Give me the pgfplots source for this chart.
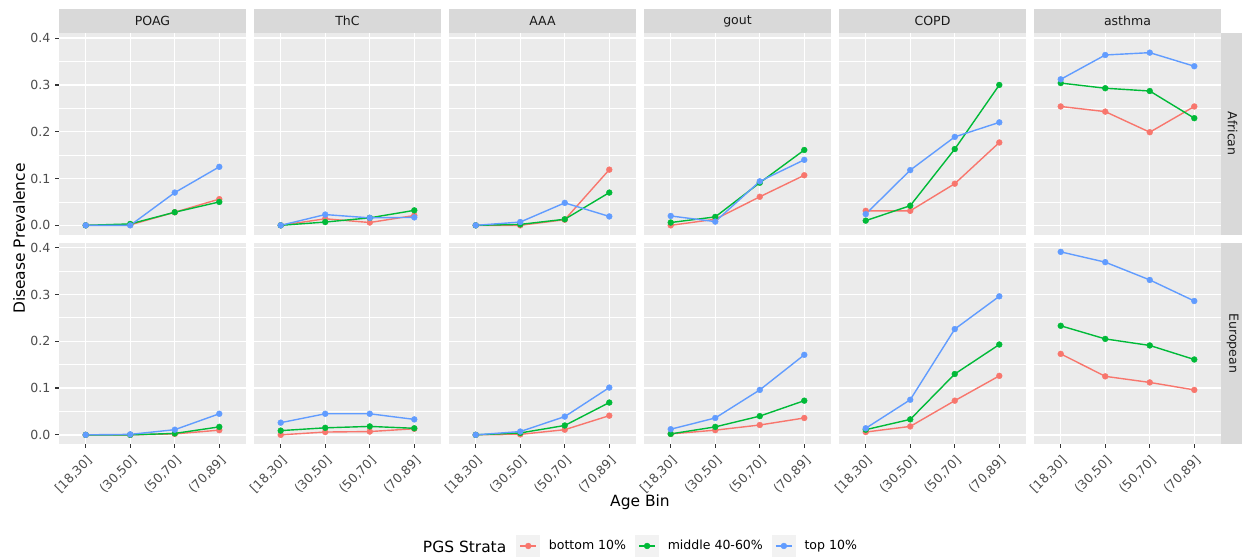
\documentclass[border=0pt]{standalone}
\usepackage{pgfplots}
\pgfplotsset{compat=1.18}
\usepackage{pgfplotstable}
\usepackage{fontspec}
\setmainfont{DejaVu Sans}

\definecolor{cbot}{HTML}{F8766D}
\definecolor{cmid}{HTML}{00BA38}
\definecolor{ctop}{HTML}{619CFF}
\definecolor{panelbg}{HTML}{EBEBEB}
\definecolor{stripbg}{HTML}{D9D9D9}
\definecolor{keybg}{HTML}{F2F2F2}
\definecolor{ticklab}{HTML}{4D4D4D}
\definecolor{tickcol}{HTML}{333333}
\definecolor{striptext}{HTML}{1A1A1A}

% African
\pgfplotstableread{
x bot mid top
1 0     0     0
2 0.001 0.003 0
3 0.028 0.028 0.070
4 0.056 0.050 0.125
}\AfPOAG
\pgfplotstableread{
x bot mid top
1 0     0     0
2 0.014 0.007 0.023
3 0.006 0.016 0.016
4 0.021 0.032 0.017
}\AfThC
\pgfplotstableread{
x bot mid top
1 0     0     0
2 0     0.002 0.007
3 0.012 0.013 0.048
4 0.119 0.070 0.019
}\AfAAA
\pgfplotstableread{
x bot mid top
1 0     0.006 0.020
2 0.013 0.018 0.008
3 0.061 0.091 0.094
4 0.107 0.161 0.140
}\AfGout
\pgfplotstableread{
x bot mid top
1 0.031 0.010 0.024
2 0.031 0.042 0.118
3 0.089 0.163 0.189
4 0.177 0.300 0.220
}\AfCOPD
\pgfplotstableread{
x bot mid top
1 0.254 0.304 0.312
2 0.243 0.293 0.364
3 0.199 0.287 0.369
4 0.254 0.229 0.340
}\AfAsthma
% European
\pgfplotstableread{
x bot mid top
1 0     0     0
2 0     0     0.001
3 0.002 0.003 0.011
4 0.010 0.017 0.045
}\EuPOAG
\pgfplotstableread{
x bot mid top
1 0     0.009 0.026
2 0.006 0.015 0.045
3 0.007 0.018 0.045
4 0.013 0.014 0.033
}\EuThC
\pgfplotstableread{
x bot mid top
1 0     0     0
2 0.001 0.004 0.007
3 0.011 0.020 0.039
4 0.041 0.069 0.101
}\EuAAA
\pgfplotstableread{
x bot mid top
1 0.002 0.002 0.012
2 0.010 0.017 0.036
3 0.021 0.040 0.096
4 0.036 0.073 0.171
}\EuGout
\pgfplotstableread{
x bot mid top
1 0.006 0.011 0.014
2 0.018 0.033 0.075
3 0.073 0.130 0.226
4 0.126 0.193 0.296
}\EuCOPD
\pgfplotstableread{
x bot mid top
1 0.173 0.233 0.391
2 0.125 0.205 0.369
3 0.112 0.191 0.331
4 0.096 0.161 0.286
}\EuAsthma

\newcommand{\smallfont}{\fontsize{9.4}{11}\selectfont}
\newcommand{\bigfont}{\fontsize{11.6}{14}\selectfont}

\pgfplotsset{
  base/.style={
    scale only axis, width=140.25pt, height=151.125pt,
    xmin=0.4, xmax=4.6, ymin=-0.0196, ymax=0.411,
    axis background/.style={fill=panelbg},
    axis line style={draw=none},
    xtick={1,2,3,4}, ytick={0,0.1,0.2,0.3,0.4},
    minor ytick={0.05,0.15,0.25,0.35},
    grid=both,
    major grid style={white, line width=1.05pt},
    minor grid style={white, line width=0.55pt},
    xtick pos=bottom, ytick pos=left,
    tick align=outside,
    major tick length=2.9pt, minor tick length=0pt,
    tick style={color=tickcol, line width=0.9pt},
    xticklabels={}, yticklabels={},
    legend image code/.code={
      \fill[fill=keybg,draw=none] (0pt,-8.25pt) rectangle (18pt,8.25pt);
      \draw[mark repeat=2,mark phase=2] plot coordinates {(3pt,0pt) (9pt,0pt) (15pt,0pt)};
    },
  },
  lefty/.style={yticklabels={0.0,0.1,0.2,0.3,0.4},
    yticklabel style={font=\smallfont, text=ticklab}},
  noy/.style={ytick style={draw=none}},
  botx/.style={xticklabels={{[18,30]},{(30,50]},{(50,70]},{(70,89]}},
    xticklabel style={font=\smallfont, text=ticklab, rotate=45, anchor=north east}},
  nox/.style={xtick style={draw=none}},
  sbot/.style={color=cbot, line width=1.05pt, mark=*, mark size=2.2pt, mark options={solid, line width=0.3pt}},
  smid/.style={color=cmid, line width=1.05pt, mark=*, mark size=2.2pt, mark options={solid, line width=0.3pt}},
  stop/.style={color=ctop, line width=1.05pt, mark=*, mark size=2.2pt, mark options={solid, line width=0.3pt}},
}

\newcommand{\panel}[4]{%
\begin{axis}[base, at={({#1*0.75pt},{-#2*0.75pt})}, anchor=north west, #4]
\addplot[sbot] table[x=x,y=bot]{#3};
\addplot[smid] table[x=x,y=mid]{#3};
\addplot[stop] table[x=x,y=top]{#3};
\end{axis}}

\begin{document}
\begin{tikzpicture}
\begin{scope}[x=0.75pt,y=-0.75pt]
\useasboundingbox (0,0) rectangle (1242,557);
\foreach \l/\t in {59/POAG,254/ThC,449/AAA,644/gout,839/COPD,1034/asthma}{
  \fill[stripbg] (\l,9) rectangle ({\l+187},33);
  \node[font=\smallfont, text=striptext] at ({\l+93.5},21) {\t};
}
\fill[stripbg] (1221,33) rectangle (1245,234.5);
\fill[stripbg] (1221,242.5) rectangle (1245,444);
\node[rotate=-90, font=\smallfont, text=striptext] at (1232.5,133.75) {African};
\node[rotate=-90, font=\smallfont, text=striptext] at (1232.5,343.25) {European};
\end{scope}

\panel{59}{33}{\AfPOAG}{lefty, nox}
\panel{254}{33}{\AfThC}{noy, nox}
\panel{449}{33}{\AfAAA}{noy, nox}
\panel{644}{33}{\AfGout}{noy, nox}
\panel{839}{33}{\AfCOPD}{noy, nox}
\panel{1034}{33}{\AfAsthma}{noy, nox}

\panel{59}{242.5}{\EuPOAG}{lefty, botx,
  legend entries={bottom 10\%, middle 40-60\%, top 10\%},
  legend style={at={(2.4439,-0.506)}, anchor=west, draw=none, fill=none,
    inner sep=0pt, legend columns=3, font=\smallfont,
    nodes={inner sep=0pt, anchor=west},
    /tikz/every odd column/.append style={column sep=6.5pt},
    /tikz/every even column/.append style={column sep=6.75pt}}}
\panel{254}{242.5}{\EuThC}{noy, botx}
\panel{449}{242.5}{\EuAAA}{noy, botx}
\panel{644}{242.5}{\EuGout}{noy, botx}
\panel{839}{242.5}{\EuCOPD}{noy, botx}
\panel{1034}{242.5}{\EuAsthma}{noy, botx}

\begin{scope}[x=0.75pt,y=-0.75pt]
\node[rotate=90, font=\bigfont] at (19,238.5) {Disease Prevalence};
\node[font=\bigfont] at (640,502) {Age Bin};
\node[anchor=west, font=\bigfont, inner sep=0pt] at (422.7,547) {PGS Strata};
\end{scope}
\end{tikzpicture}
\end{document}
